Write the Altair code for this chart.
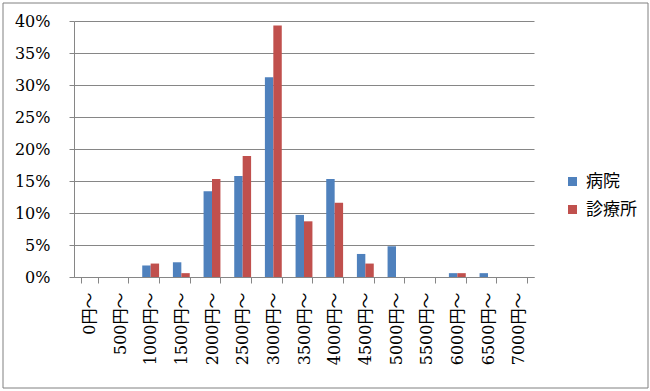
import altair as alt
import pandas as pd

categories = ["0円～", "500円～", "1000円～", "1500円～", "2000円～", "2500円～",
              "3000円～", "3500円～", "4000円～", "4500円～", "5000円～", "5500円～",
              "6000円～", "6500円～", "7000円～"]
series = ["病院", "診療所"]
hospital = [0, 0, 1.8, 2.3, 13.4, 15.8, 31.2, 9.7, 15.3, 3.6, 4.8, 0, 0.6, 0.6, 0]
clinic = [0, 0, 2.1, 0.6, 15.3, 18.9, 39.3, 8.7, 11.6, 2.1, 0, 0, 0.6, 0, 0]
colors = ["#4F81BD", "#C0504D"]
y_ticks = [0, 5, 10, 15, 20, 25, 30, 35, 40]

rows = []
for c, h, k in zip(categories, hospital, clinic):
    rows.append({"cat": c, "series": series[0], "value": h})
    rows.append({"cat": c, "series": series[1], "value": k})
df = pd.DataFrame(rows)

serif = "'DejaVu Serif', 'Noto Sans CJK JP', serif"
gray = "#868686"

bars = alt.Chart(df).mark_bar().encode(
    x=alt.X("cat:N", sort=categories,
            scale=alt.Scale(paddingInner=0.45, paddingOuter=0.225),
            axis=alt.Axis(title=None, labelAngle=-90, tickBand="extent", grid=False,
                          labelFont=serif, labelFontSize=16, labelColor="black",
                          tickSize=6, labelPadding=9, domainColor=gray, tickColor=gray)),
    xOffset=alt.XOffset("series:N", sort=series,
                        scale=alt.Scale(paddingInner=0, paddingOuter=0)),
    y=alt.Y("value:Q", scale=alt.Scale(domain=[0, 40], nice=False),
            axis=alt.Axis(title=None, values=y_ticks, labelExpr="datum.value + '%'",
                          labelFont=serif, labelFontSize=16, labelColor="black",
                          tickSize=5, labelPadding=19, domainColor=gray, tickColor=gray,
                          gridColor=gray, grid=True)),
    color=alt.Color("series:N", sort=series,
                    scale=alt.Scale(domain=series, range=colors),
                    legend=alt.Legend(title=None, orient="none", legendX=490, legendY=152,
                                      symbolType="square", symbolSize=81,
                                      symbolStrokeWidth=0, labelFont="Noto Sans CJK JP",
                                      labelFontSize=17, labelColor="black",
                                      rowPadding=10, padding=0, labelOffset=5)),
)

border = alt.Chart(pd.DataFrame({"k": [0]})).mark_rect(
    fillOpacity=0, stroke="#808080", strokeWidth=1
).encode(x=alt.value(-71), x2=alt.value(574), y=alt.value(-18), y2=alt.value(367))

chart = alt.layer(border, bars).properties(
    width=460, height=256,
    padding={"left": 74, "top": 21, "right": 116, "bottom": 114},
    autosize=alt.AutoSizeParams(type="none"),
    background="white",
).configure_view(stroke=None)

chart.save("out.html", embed_options={"renderer": "svg", "actions": False})
